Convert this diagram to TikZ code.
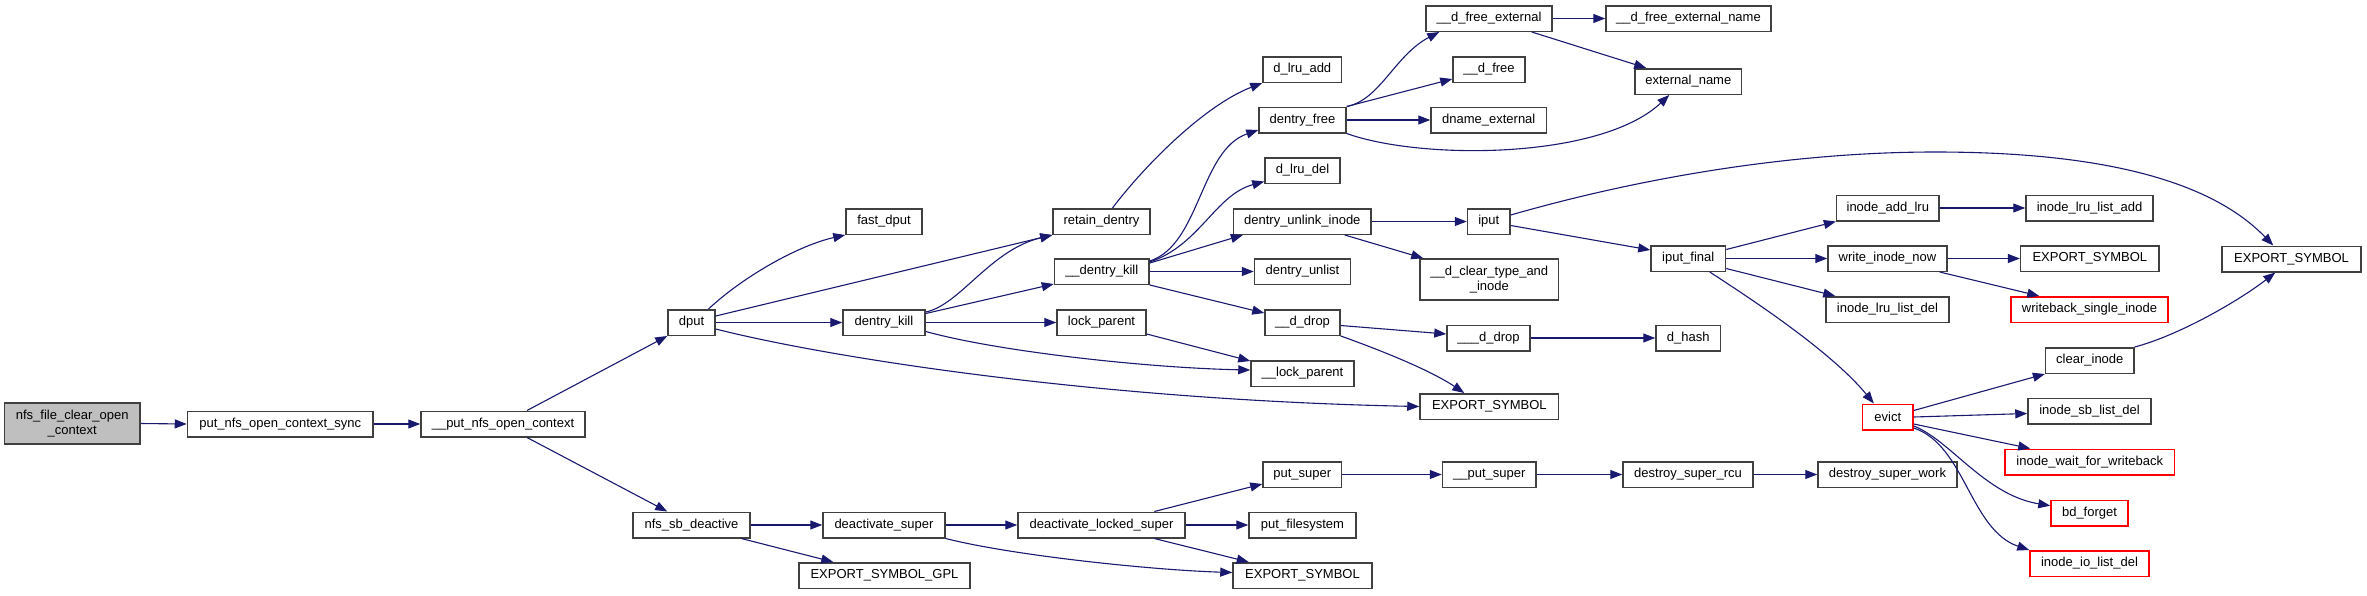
\documentclass[tikz,border=0pt]{standalone}
\usepackage{fontspec}
\setmainfont{Liberation Sans}
\usetikzlibrary{arrows.meta,calc}
\definecolor{edgecol}{HTML}{191970}
\definecolor{boxline}{HTML}{404040}
\definecolor{rootfill}{HTML}{BFBFBF}
\definecolor{hot}{HTML}{FF0000}
\newcommand{\gnode}[6][]{\node[fn,#1,minimum width={#4-#3}] (#2) at ({(#3+#4)/2},#5) {#6};}
\begin{document}
\begin{tikzpicture}[x=1pt,y=-1pt,
  fn/.style={draw=boxline, line width=1.5pt, fill=white, inner sep=0pt, minimum height=25.5pt, font=\fontsize{13}{15}\selectfont, align=center},
  hotfn/.style={draw=hot},
  rootfn/.style={fill=rootfill, minimum height=41pt},
  tallfn/.style={minimum height=41pt},
  call/.style={draw=edgecol, line width=1.1pt, -{Triangle[length=12pt,width=9pt]}},
]
\useasboundingbox (0,0) rectangle (2367,595);
% nodes
\gnode[rootfn]{root}{4.5}{140}{423.5}{nfs\_file\_clear\_open\\\_context}
\gnode{pnocs}{187.5}{373}{424}{put\_nfs\_open\_context\_sync}
\gnode{pnoc}{421}{585}{424}{\_\_put\_nfs\_open\_context}
\gnode{dput}{668}{715}{322.5}{dput}
\gnode{nsd}{633}{750}{525}{nfs\_sb\_deactive}
\gnode{fdput}{846}{922}{221.5}{fast\_dput}
\gnode{dkill}{843}{925}{322.5}{dentry\_kill}
\gnode{dsuper}{823}{945}{525}{deactivate\_super}
\gnode{esgpl}{799}{970}{575.5}{EXPORT\_SYMBOL\_GPL}
\gnode{retain}{1053}{1150}{221.5}{retain\_dentry}
\gnode{udk}{1054.5}{1149}{271.5}{\_\_dentry\_kill}
\gnode{lockp}{1057}{1146}{322.5}{lock\_parent}
\gnode{dls}{1018}{1185}{525}{deactivate\_locked\_super}
\gnode{dlruadd}{1263}{1341.6}{69.5}{d\_lru\_add}
\gnode{dfree}{1259}{1346}{120}{dentry\_free}
\gnode{dlrudel}{1265}{1340}{170.5}{d\_lru\_del}
\gnode{dui}{1233.6}{1371}{221.5}{dentry\_unlink\_inode}
\gnode{dunlist}{1254.5}{1350.5}{271.5}{dentry\_unlist}
\gnode{ddrop}{1265}{1340}{322.5}{\_\_d\_drop}
\gnode{ulockp}{1251}{1354}{373.5}{\_\_lock\_parent}
\gnode{psuper}{1263}{1341.6}{474.5}{put\_super}
\gnode{pfs}{1249}{1356}{525}{put\_filesystem}
\gnode{esbot}{1233}{1372}{575.5}{EXPORT\_SYMBOL}
\gnode{dfe}{1426}{1552}{18.5}{\_\_d\_free\_external}
\gnode{udfree}{1453}{1525}{69.5}{\_\_d\_free}
\gnode{dnext}{1431}{1546.5}{120}{dname\_external}
\gnode{iput}{1467.5}{1510}{221.5}{iput}
\gnode[tallfn]{dclear}{1420}{1558.6}{279.5}{\_\_d\_clear\_type\_and\\\_inode}
\gnode{dddrop}{1447}{1530}{338}{\_\_\_d\_drop}
\gnode{esmid}{1420}{1558.6}{406.5}{EXPORT\_SYMBOL}
\gnode{upsuper}{1442.5}{1536}{474.5}{\_\_put\_super}
\gnode{dfen}{1606}{1771}{18.5}{\_\_d\_free\_external\_name}
\gnode{extname}{1635}{1741.6}{81.5}{external\_name}
\gnode{iputf}{1651}{1725.5}{258.5}{iput\_final}
\gnode{dhash}{1656}{1720.6}{338}{d\_hash}
\gnode{dsrcu}{1623}{1753}{474.5}{destroy\_super\_rcu}
\gnode[hotfn]{evict}{1862.6}{1913}{417}{evict}
\gnode{iaddlru}{1836.6}{1939}{208}{inode\_add\_lru}
\gnode{winow}{1828}{1947}{258.5}{write\_inode\_now}
\gnode{ilrudel}{1826}{1949}{309.5}{inode\_lru\_list\_del}
\gnode{dswork}{1818}{1957}{474.5}{destroy\_super\_work}
\gnode{ilruadd}{2026}{2153}{208}{inode\_lru\_list\_add}
\gnode{eswi}{2020.6}{2159}{258.5}{EXPORT\_SYMBOL}
\gnode[hotfn]{wsi}{2011}{2168}{309.5}{writeback\_single\_inode}
\gnode{clri}{2045.6}{2134}{360.5}{clear\_inode}
\gnode{isbdel}{2028}{2151}{411}{inode\_sb\_list\_del}
\gnode[hotfn]{iwfw}{2005}{2174.6}{462}{inode\_wait\_for\_writeback}
\gnode[hotfn]{bdf}{2051}{2128}{513}{bd\_forget}
\gnode[hotfn]{iiodel}{2030}{2149}{563.5}{inode\_io\_list\_del}
\gnode{esright}{2222}{2361}{259}{EXPORT\_SYMBOL}
% edges
\draw[call] (root.east) -- (pnocs.west);
\draw[call] (pnocs.east) -- (pnoc.west);
\draw[call] ($(pnoc.north)+(24,0)$) -- (dput.south west);
\draw[call] ($(pnoc.south)+(24,0)$) -- ($(nsd.north west)+(35,0)$);
\draw[call] ($(dput.north)+(17,0)$) .. controls (745,275) and (800,245) .. (fdput.south west);
\draw[call] ($(dput.east)+(0,-6.5)$) -- (retain.south west);
\draw[call] (dput.east) -- (dkill.west);
\draw[call] ($(dput.east)+(0,6.5)$) .. controls (830,358) and (1100,400) .. (esmid.west);
\draw[call] ($(dkill.east)+(0,-10.5)$) .. controls (960,305) and (990,250) .. (retain.south west);
\draw[call] ($(dkill.east)+(0,-9)$) -- ($(udk.south west)+(0,-1)$);
\draw[call] (dkill.east) -- (lockp.west);
\draw[call] ($(dkill.east)+(0,9)$) .. controls (1000,352) and (1150,368) .. ($(ulockp.west)+(0,-3.5)$);
\draw[call] ($(lockp.east)+(0,11.5)$) -- ($(ulockp.north west)+(0,1)$);
\draw[call] ($(retain.north)+(11,0)$) .. controls (1145,165) and (1205,105) .. (dlruadd.south west);
\draw[call] ($(udk.east)+(0,-10.5)$) .. controls (1200,245) and (1200,150) .. ($(dfree.west)+(0,10)$);
\draw[call] ($(udk.east)+(0,-9.5)$) .. controls (1200,245) and (1215,195) .. ($(dlrudel.west)+(0,11)$);
\draw[call] ($(udk.east)+(0,-8.5)$) -- ($(dui.south west)+(10,0)$);
\draw[call] (udk.east) -- (dunlist.west);
\draw[call] (udk.south east) -- ($(ddrop.west)+(0,-9.5)$);
\draw[call] (dfree.north east) .. controls (1380,100) and (1395,55) .. ($(dfe.south west)+(14,0)$);
\draw[call] (dfree.north east) -- ($(udfree.south west)+(0,-4)$);
\draw[call] (dfree.east) -- (dnext.west);
\draw[call] (dfree.south east) .. controls (1420,160) and (1600,160) .. ($(extname.south west)+(35,0)$);
\draw[call] (dfe.east) -- (dfen.west);
\draw[call] ($(dfe.south east)+(-21,0)$) -- ($(extname.north west)+(12,0)$);
\draw[call] (dui.east) -- (iput.west);
\draw[call] ($(dui.south east)+(-27,0)$) -- ($(dclear.north west)+(4,0)$);
\draw[call] ($(iput.east)+(0,-6.5)$) .. controls (1650,175) and (1800,152) .. (1935,152) .. controls (2100,152) and (2210,180) .. ($(esright.north west)+(52,0)$);
\draw[call] ($(iput.east)+(0,4)$) -- ($(iputf.west)+(0,-8.5)$);
\draw[call] ($(iputf.east)+(0,-9)$) -- (iaddlru.south west);
\draw[call] (iputf.east) -- (winow.west);
\draw[call] ($(iputf.east)+(0,10)$) -- ($(ilrudel.north west)+(10,0)$);
\draw[call] ($(iputf.south east)+(-16.5,0)$) .. controls (1745,295) and (1830,350) .. ($(evict.north west)+(12,0)$);
\draw[call] (iaddlru.east) -- (ilruadd.west);
\draw[call] (winow.east) -- (eswi.west);
\draw[call] ($(winow.south east)+(-8,0)$) -- ($(wsi.north west)+(29,0)$);
\draw[call] ($(ddrop.east)+(0,3)$) -- ($(dddrop.west)+(0,-4)$);
\draw[call] (ddrop.south east) .. controls (1380,350) and (1430,370) .. ($(esmid.north west)+(45,0)$);
\draw[call] (dddrop.east) -- (dhash.west);
\draw[call] ($(evict.east)+(0,-6.5)$) -- (clri.south west);
\draw[call] (evict.east) -- ($(isbdel.west)+(0,2.5)$);
\draw[call] ($(evict.east)+(0,7)$) -- ($(iwfw.north west)+(26,0)$);
\draw[call] ($(evict.east)+(0,9)$) .. controls (1950,440) and (1985,495) .. ($(bdf.west)+(0,-7.3)$);
\draw[call] ($(evict.east)+(0,11)$) .. controls (1965,445) and (1970,530) .. (iiodel.north west);
\draw[call] (clri.north east) .. controls (2180,335) and (2240,300) .. ($(esright.south west)+(54,0)$);
\draw[call] (nsd.east) -- (dsuper.west);
\draw[call] ($(nsd.south east)+(-9.4,0)$) -- ($(esgpl.north west)+(35,0)$);
\draw[call] (dsuper.east) -- (dls.west);
\draw[call] (dsuper.south east) .. controls (1010,555) and (1150,570) .. ($(esbot.west)+(0,-3)$);
\draw[call] ($(dls.north east)+(-31.4,0)$) -- ($(psuper.south west)+(0,-4)$);
\draw[call] (dls.east) -- (pfs.west);
\draw[call] ($(dls.south east)+(-31.4,0)$) -- ($(esbot.north west)+(16.5,0)$);
\draw[call] (psuper.east) -- (upsuper.west);
\draw[call] (upsuper.east) -- (dsrcu.west);
\draw[call] (dsrcu.east) -- (dswork.west);
\end{tikzpicture}
\end{document}
